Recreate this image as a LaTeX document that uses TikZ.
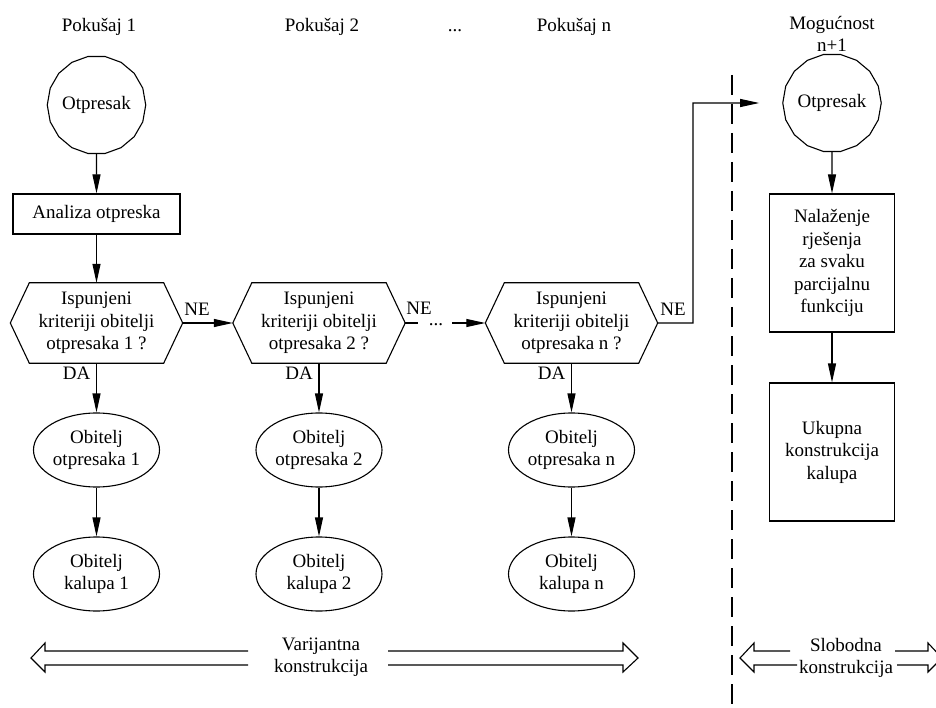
\documentclass[tikz,border=0pt]{standalone}
\usepackage{fontspec}
\setmainfont{Liberation Serif}
\usetikzlibrary{arrows.meta,shapes.geometric}
\begin{document}
\begin{tikzpicture}[x=1pt,y=-1pt,
  every node/.style={font=\fontsize{19}{22.5}\selectfont, inner sep=0pt, align=center},
  lw/.style={line width=1.1pt},
  arr/.style={lw, -{Triangle[length=19pt,width=8pt]}},
  circ/.style={draw, lw, regular polygon, regular polygon sides=18, minimum size=80pt},
  hexa/.style={rectangle, minimum width=172pt, minimum height=80pt},
  ell/.style={draw, lw, ellipse, minimum width=126pt, minimum height=74pt},
  proc/.style={draw, lw, rectangle},
  dashsep/.style={lw, dash pattern=on 20pt off 9pt},
  dblarrow/.style={lw, line join=miter}
]
\useasboundingbox (0,0) rectangle (936,708);

% titles
\node[anchor=base] (t1) at (99,32) {Pokušaj 1};
\node[anchor=base] (t2) at (322,32) {Pokušaj 2};
\node[anchor=base] (tdots) at (455,32) {...};
\node[anchor=base] (tn) at (574,32) {Pokušaj n};
\node (tm) at (832,34) {Mogućnost\\n+1};

% column 1
\node[circ] (c1) at (96.5,105) {Otpresak};
\node[proc, minimum width=167pt, minimum height=40pt] (a1) at (96.5,214) {Analiza otpreska};
\node[hexa] (h1) at (96.5,323) {Ispunjeni\\kriteriji obitelji\\otpresaka 1 ?};
\node[ell] (e1) at (96.5,450) {Obitelj\\otpresaka 1};
\node[ell] (k1) at (96.5,574) {Obitelj\\kalupa 1};

% column 2
\node[hexa] (h2) at (319,323) {Ispunjeni\\kriteriji obitelji\\otpresaka 2 ?};
\node[ell] (e2) at (319,450) {Obitelj\\otpresaka 2};
\node[ell] (k2) at (319,574) {Obitelj\\kalupa 2};

% column n
\node[hexa] (hn) at (571.5,323) {Ispunjeni\\kriteriji obitelji\\otpresaka n ?};
\node[ell] (en) at (571.5,450) {Obitelj\\otpresaka n};
\node[ell] (kn) at (571.5,574) {Obitelj\\kalupa n};

% hexagon outlines
\foreach \h in {h1,h2,hn}{
  \draw[lw] ([xshift=19pt]\h.north west) -- ([xshift=-19pt]\h.north east) -- (\h.east)
    -- ([xshift=-19pt]\h.south east) -- ([xshift=19pt]\h.south west) -- (\h.west) -- cycle;
}

% right part
\node[circ] (c2) at (832,103) {Otpresak};
\node[proc, minimum width=125pt, minimum height=138pt] (b1) at (832,263) {Nalaženje\\rješenja\\za svaku\\parcijalnu\\funkciju};
\node[proc, minimum width=125pt, minimum height=138pt] (b2) at (832,452) {Ukupna\\konstrukcija\\kalupa};

% labels
\node (ne1) at (197,309) {NE};
\node (ne2) at (419,308) {NE};
\node (nen) at (673,309) {NE};
\node[anchor=north east] (da1) at (90.5,367) {DA};
\node[anchor=north east] (da2) at (313,367) {DA};
\node[anchor=north east] (dan) at (565.5,367) {DA};
\node[anchor=base] (dots) at (436,325) {...};

% vertical connectors
\draw[arr] (c1.south) -- (a1.north);
\draw[arr] (a1.south) -- (h1.north);
\draw[arr] (h1.south) -- (e1.north);
\draw[arr] (e1.south) -- (k1.north);
\draw[arr] (h2.south) -- (e2.north);
\draw[arr] (e2.south) -- (k2.north);
\draw[arr] (hn.south) -- (en.north);
\draw[arr] (en.south) -- (kn.north);
\draw[arr] (c2.south) -- (b1.north);
\draw[arr] (b1.south) -- (b2.north);

% horizontal connectors
\draw[arr] (h1.east) -- (h2.west);
\coordinate (d1) at (418,323);
\draw[lw] (h2.east) -- (d1);
\draw[arr] ([xshift=9pt]dots.east |- hn.west) -- (hn.west);
\coordinate (up) at (693,103);
\draw[arr] (hn.east) -| (up) -- ([xshift=-23pt]c2.west);

% separator
\draw[dashsep] (732,75) -- (732,708);

% double arrows
\node (var) at (321,657) {Varijantna\\konstrukcija};
\draw[dblarrow] (248,651) -- (45,651) -- (45,643) -- (31,658) -- (45,672) -- (45,665) -- (248,665);
\draw[dblarrow] (388,651) -- (623,651) -- (623,643) -- (638,658) -- (623,672) -- (623,665) -- (388,665);
\node (slo) at (846,658) {Slobodna\\konstrukcija};
\draw[dblarrow] (790,651) -- (754,651) -- (754,643) -- (740,658) -- (754,672) -- (754,665) -- (797,665);
\draw[dblarrow] (895,651) -- (928,651) -- (928,643) -- (942,658) -- (928,672) -- (928,665) -- (897,665);
\end{tikzpicture}
\end{document}
